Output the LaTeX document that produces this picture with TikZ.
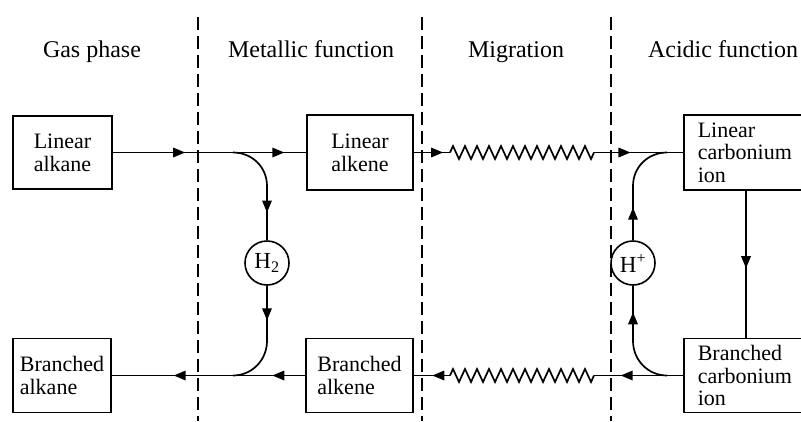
\documentclass[tikz,border=0pt]{standalone}
\usepackage{fontspec}
\setmainfont{Liberation Serif}
\usetikzlibrary{arrows.meta,decorations.pathmorphing,decorations.markings}
\tikzset{
  hdr/.style={anchor=base, inner sep=0pt, font=\fontsize{24}{26}\selectfont},
  box/.style={draw, line width=1.6pt, inner sep=0pt, align=left,
    font=\fontsize{22}{23}\selectfont},
  ionbox/.style={draw, line width=1.6pt, inner xsep=14pt, inner ysep=0pt, align=left,
    text width=104pt, anchor=west, font=\fontsize{22}{22.5}\selectfont},
  species/.style={draw, circle, line width=1.6pt, minimum size=44pt, inner sep=0pt,
    font=\fontsize{23}{24}\selectfont},
  sep/.style={line width=1.2pt, dash pattern=on 13pt off 6pt},
  arr/.style={postaction={decorate, decoration={markings,
    mark=at position #1 with {\arrow{Triangle[length=12pt,width=9.5pt]}}}}},
  zz/.style={decorate, decoration={zigzag, segment length=12pt, amplitude=6.5pt}},
}
\begin{document}
\begin{tikzpicture}[x=1pt,y=-1pt, line width=1.7pt]
\clip (0,0) rectangle (801,421);
\fill[white] (0,0) rectangle (801,421);

% headers
\node[hdr] (hg) at (92,57) {Gas phase};
\node[hdr] (hm) at (311,57) {Metallic function};
\node[hdr] (hn) at (516,57) {Migration};
\node[hdr] (ha) at (723,57) {Acidic function};

% separators
\draw[sep] (198,17) -- (198,421);
\draw[sep] (422,17) -- (422,421);
\draw[sep] (611,17) -- (611,421);

% boxes
\node[box, minimum width=99pt, minimum height=73pt] (la) at (62.5,152.5) {Linear\\alkane};
\node[box, minimum width=106pt, minimum height=75pt] (lk) at (360,152.5) {Linear\\alkene};
\node[box, minimum width=98pt, minimum height=74pt] (ba) at (62,375.5) {Branched\\alkane};
\node[box, minimum width=107pt, minimum height=74pt] (bk) at (359.5,375.5) {Branched\\alkene};
\node[ionbox, minimum height=75pt] (lc) at (683,152.5) {Linear\\carbonium\\ion};
\node[ionbox, minimum height=74pt] (bc) at (683,375.5) {Branched\\carbonium\\ion};

% species circles
\node[species] (h2) at (267,263) {H\textsubscript{2}};
\node[species] (hp) at (633,263) {H\textsuperscript{+}};

% helper coordinates
\coordinate (j1) at (233,152.5);
\coordinate (v1) at (267,186);
\coordinate (v2) at (267,341);
\coordinate (j2) at (233,375.5);
\coordinate (j3) at (667,152.5);
\coordinate (v3) at (633,186);
\coordinate (v4) at (633,341);
\coordinate (j4) at (667,375.5);
\coordinate (z1) at (450,152.5);
\coordinate (z2) at (594,152.5);
\coordinate (z3) at (594,375.5);
\coordinate (z4) at (450,375.5);
\coordinate (vx) at (746,0);

% top row
\draw[arr=0.374, arr=0.887] (la.east) -- (lk.west);
\draw[arr=0.81] (lk.east) -- (z1);
\draw[zz] (z1) -- (z2);
\draw[arr=0.41] (z2) -- (lc.west);

% bottom row
\draw[arr=0.7] (bc.west) -- (z3);
\draw[zz] (z3) -- (z4);
\draw[arr=0.49] (z4) -- (bk.east);
\draw[arr=0.17, arr=0.68] (bk.west) -- (ba.east);

% metallic branch
\draw (j1) .. controls (252,152.5) and (267,167) .. (v1);
\draw[arr=0.49] (v1) -- (h2.north);
\draw[arr=0.625] (h2.south) -- (v2);
\draw (v2) .. controls (267,360) and (252,375.5) .. (j2);

% acidic branch
\draw[arr=0.6] (hp.north) -- (v3);
\draw (v3) .. controls (633,167) and (648,152.5) .. (j3);
\draw[arr=0.52] (v4) -- (hp.south);
\draw (j4) .. controls (648,375.5) and (633,360) .. (v4);

% isomerisation
\draw[arr=0.527] (lc.south -| vx) -- (bc.north -| vx);
\end{tikzpicture}
\end{document}
